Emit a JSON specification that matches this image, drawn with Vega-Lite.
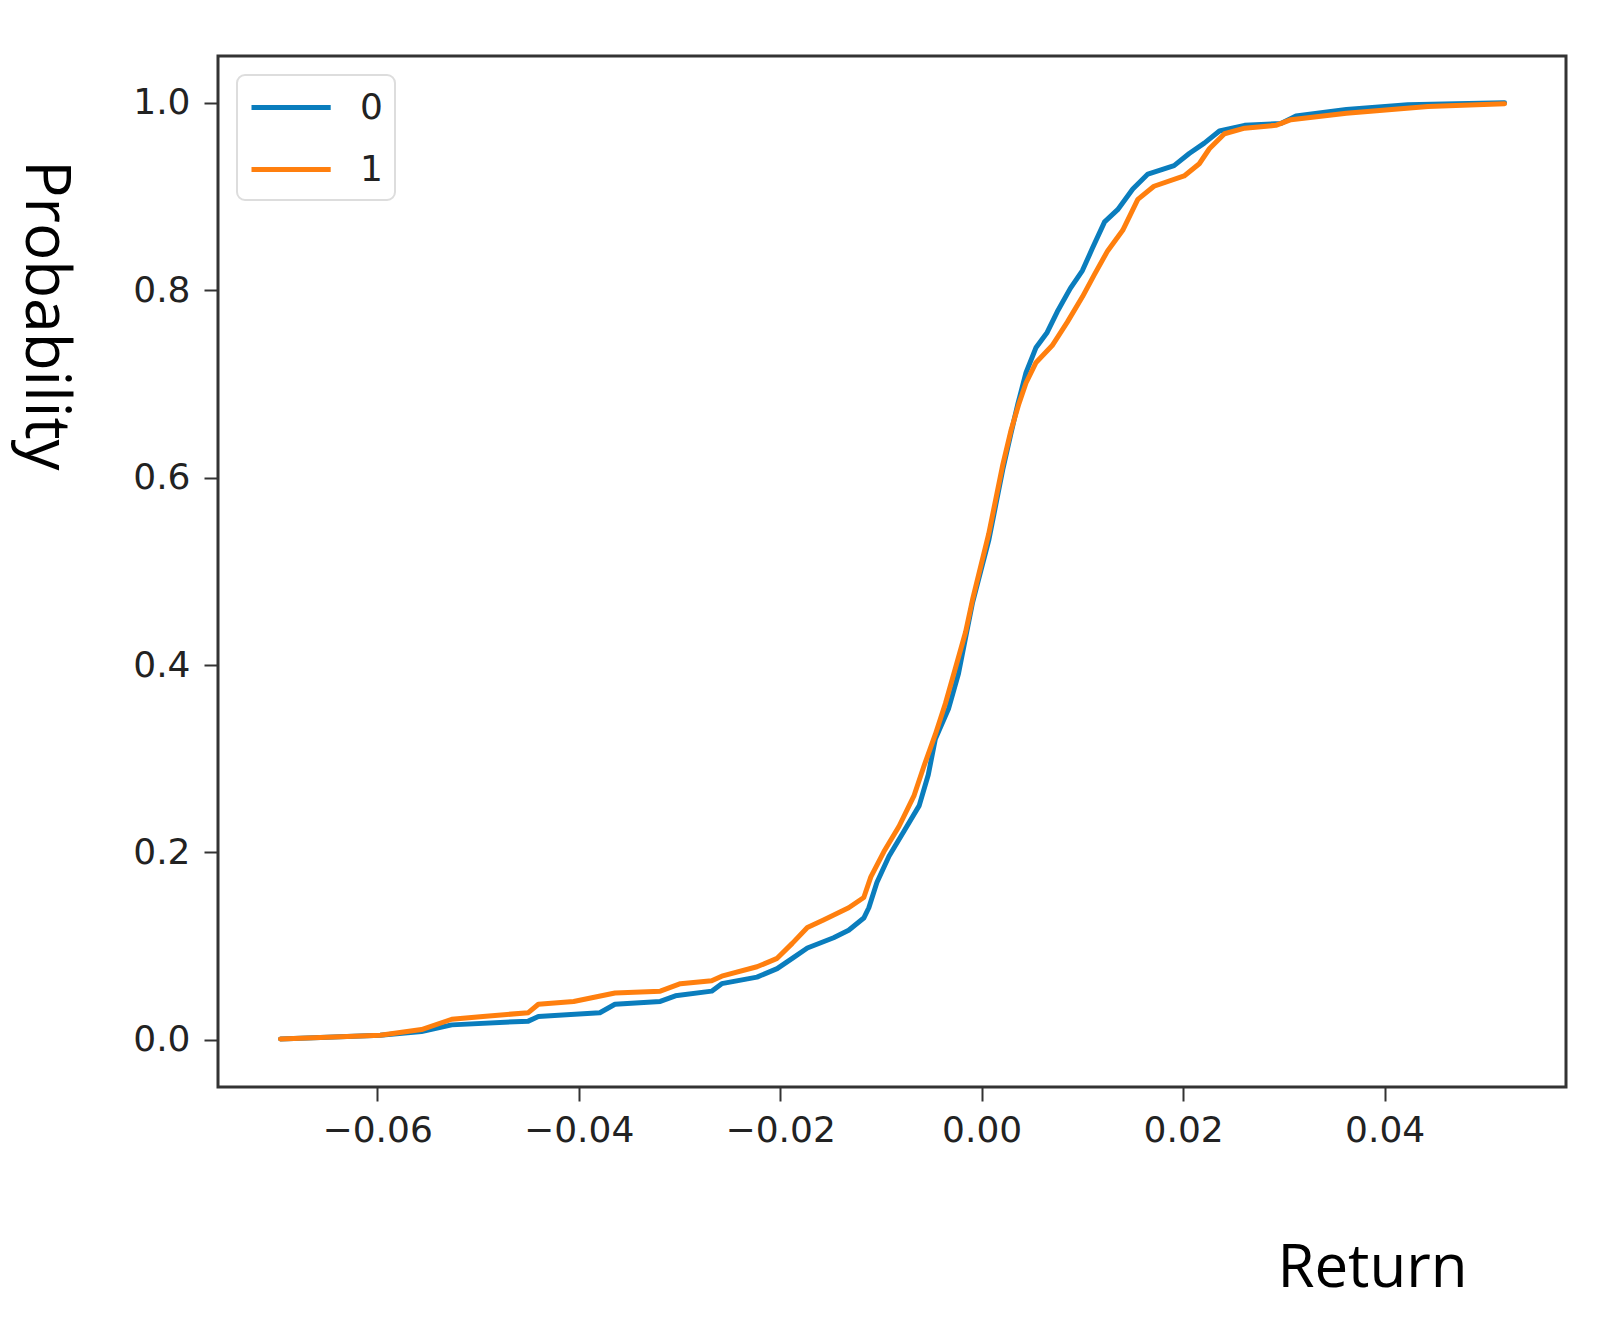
{
  "$schema": "https://vega.github.io/schema/vega-lite/v6.json",
  "width": 1348,
  "height": 1031,
  "autosize": {"type": "none"},
  "padding": {"left": 218, "top": 56, "right": 34, "bottom": 246},
  "background": "white",
  "config": {
    "view": {"stroke": "#333333", "strokeWidth": 3},
    "legend": {
      "orient": "none",
      "legendX": 19,
      "legendY": 19,
      "padding": 12,
      "strokeColor": "#dddddd",
      "strokeWidth": 2,
      "cornerRadius": 8,
      "fillColor": "white",
      "symbolType": "M-1,0L3.4,0",
      "symbolSize": 1296,
      "symbolStrokeWidth": 5,
      "labelFont": "DejaVu Sans",
      "labelFontSize": 36,
      "labelColor": "#222222",
      "labelOffset": 70,
      "rowPadding": 23
    }
  },
  "data": {
    "values": [
      {"group": "0", "ret": -0.0696, "prob": 0.001},
      {"group": "0", "ret": -0.0597, "prob": 0.005},
      {"group": "0", "ret": -0.0556, "prob": 0.009},
      {"group": "0", "ret": -0.0526, "prob": 0.016},
      {"group": "0", "ret": -0.0450, "prob": 0.020},
      {"group": "0", "ret": -0.0440, "prob": 0.025},
      {"group": "0", "ret": -0.0379, "prob": 0.029},
      {"group": "0", "ret": -0.0364, "prob": 0.038},
      {"group": "0", "ret": -0.0319, "prob": 0.041},
      {"group": "0", "ret": -0.0304, "prob": 0.047},
      {"group": "0", "ret": -0.0268, "prob": 0.052},
      {"group": "0", "ret": -0.0258, "prob": 0.060},
      {"group": "0", "ret": -0.0223, "prob": 0.067},
      {"group": "0", "ret": -0.0203, "prob": 0.076},
      {"group": "0", "ret": -0.0188, "prob": 0.087},
      {"group": "0", "ret": -0.0173, "prob": 0.098},
      {"group": "0", "ret": -0.0147, "prob": 0.109},
      {"group": "0", "ret": -0.0132, "prob": 0.117},
      {"group": "0", "ret": -0.0117, "prob": 0.130},
      {"group": "0", "ret": -0.0112, "prob": 0.141},
      {"group": "0", "ret": -0.0104, "prob": 0.168},
      {"group": "0", "ret": -0.0092, "prob": 0.196},
      {"group": "0", "ret": -0.0077, "prob": 0.223},
      {"group": "0", "ret": -0.0062, "prob": 0.250},
      {"group": "0", "ret": -0.0053, "prob": 0.283},
      {"group": "0", "ret": -0.0046, "prob": 0.321},
      {"group": "0", "ret": -0.0033, "prob": 0.353},
      {"group": "0", "ret": -0.0023, "prob": 0.391},
      {"group": "0", "ret": -0.0016, "prob": 0.429},
      {"group": "0", "ret": -0.0009, "prob": 0.467},
      {"group": "0", "ret": -0.0001, "prob": 0.500},
      {"group": "0", "ret": 0.0007, "prob": 0.533},
      {"group": "0", "ret": 0.0014, "prob": 0.571},
      {"group": "0", "ret": 0.0021, "prob": 0.609},
      {"group": "0", "ret": 0.0029, "prob": 0.647},
      {"group": "0", "ret": 0.0036, "prob": 0.679},
      {"group": "0", "ret": 0.0044, "prob": 0.712},
      {"group": "0", "ret": 0.0054, "prob": 0.739},
      {"group": "0", "ret": 0.0065, "prob": 0.755},
      {"group": "0", "ret": 0.0075, "prob": 0.777},
      {"group": "0", "ret": 0.0088, "prob": 0.802},
      {"group": "0", "ret": 0.0100, "prob": 0.821},
      {"group": "0", "ret": 0.0110, "prob": 0.845},
      {"group": "0", "ret": 0.0122, "prob": 0.873},
      {"group": "0", "ret": 0.0135, "prob": 0.886},
      {"group": "0", "ret": 0.0150, "prob": 0.908},
      {"group": "0", "ret": 0.0165, "prob": 0.924},
      {"group": "0", "ret": 0.0191, "prob": 0.933},
      {"group": "0", "ret": 0.0206, "prob": 0.946},
      {"group": "0", "ret": 0.0221, "prob": 0.957},
      {"group": "0", "ret": 0.0236, "prob": 0.970},
      {"group": "0", "ret": 0.0261, "prob": 0.976},
      {"group": "0", "ret": 0.0297, "prob": 0.978},
      {"group": "0", "ret": 0.0312, "prob": 0.986},
      {"group": "0", "ret": 0.0362, "prob": 0.993},
      {"group": "0", "ret": 0.0423, "prob": 0.998},
      {"group": "0", "ret": 0.0519, "prob": 1.000},
      {"group": "1", "ret": -0.0696, "prob": 0.001},
      {"group": "1", "ret": -0.0597, "prob": 0.005},
      {"group": "1", "ret": -0.0556, "prob": 0.011},
      {"group": "1", "ret": -0.0526, "prob": 0.022},
      {"group": "1", "ret": -0.0495, "prob": 0.025},
      {"group": "1", "ret": -0.0450, "prob": 0.029},
      {"group": "1", "ret": -0.0440, "prob": 0.038},
      {"group": "1", "ret": -0.0405, "prob": 0.041},
      {"group": "1", "ret": -0.0364, "prob": 0.050},
      {"group": "1", "ret": -0.0319, "prob": 0.052},
      {"group": "1", "ret": -0.0299, "prob": 0.060},
      {"group": "1", "ret": -0.0268, "prob": 0.063},
      {"group": "1", "ret": -0.0258, "prob": 0.068},
      {"group": "1", "ret": -0.0223, "prob": 0.078},
      {"group": "1", "ret": -0.0203, "prob": 0.087},
      {"group": "1", "ret": -0.0188, "prob": 0.103},
      {"group": "1", "ret": -0.0173, "prob": 0.120},
      {"group": "1", "ret": -0.0157, "prob": 0.128},
      {"group": "1", "ret": -0.0132, "prob": 0.141},
      {"group": "1", "ret": -0.0117, "prob": 0.152},
      {"group": "1", "ret": -0.0110, "prob": 0.174},
      {"group": "1", "ret": -0.0097, "prob": 0.201},
      {"group": "1", "ret": -0.0082, "prob": 0.228},
      {"group": "1", "ret": -0.0067, "prob": 0.261},
      {"group": "1", "ret": -0.0057, "prob": 0.293},
      {"group": "1", "ret": -0.0046, "prob": 0.326},
      {"group": "1", "ret": -0.0036, "prob": 0.359},
      {"group": "1", "ret": -0.0026, "prob": 0.397},
      {"group": "1", "ret": -0.0016, "prob": 0.435},
      {"group": "1", "ret": -0.0009, "prob": 0.470},
      {"group": "1", "ret": -0.0001, "prob": 0.505},
      {"group": "1", "ret": 0.0007, "prob": 0.540},
      {"group": "1", "ret": 0.0014, "prob": 0.577},
      {"group": "1", "ret": 0.0021, "prob": 0.614},
      {"group": "1", "ret": 0.0029, "prob": 0.650},
      {"group": "1", "ret": 0.0037, "prob": 0.679},
      {"group": "1", "ret": 0.0044, "prob": 0.701},
      {"group": "1", "ret": 0.0054, "prob": 0.723},
      {"group": "1", "ret": 0.0070, "prob": 0.741},
      {"group": "1", "ret": 0.0085, "prob": 0.766},
      {"group": "1", "ret": 0.0100, "prob": 0.793},
      {"group": "1", "ret": 0.0112, "prob": 0.817},
      {"group": "1", "ret": 0.0125, "prob": 0.842},
      {"group": "1", "ret": 0.0140, "prob": 0.864},
      {"group": "1", "ret": 0.0155, "prob": 0.897},
      {"group": "1", "ret": 0.0171, "prob": 0.911},
      {"group": "1", "ret": 0.0201, "prob": 0.922},
      {"group": "1", "ret": 0.0216, "prob": 0.935},
      {"group": "1", "ret": 0.0226, "prob": 0.951},
      {"group": "1", "ret": 0.0241, "prob": 0.967},
      {"group": "1", "ret": 0.0261, "prob": 0.973},
      {"group": "1", "ret": 0.0292, "prob": 0.976},
      {"group": "1", "ret": 0.0307, "prob": 0.982},
      {"group": "1", "ret": 0.0362, "prob": 0.989},
      {"group": "1", "ret": 0.0443, "prob": 0.996},
      {"group": "1", "ret": 0.0519, "prob": 0.999}
    ]
  },
  "mark": {"type": "line", "strokeWidth": 5, "strokeJoin": "round", "strokeCap": "round"},
  "encoding": {
    "x": {
      "field": "ret",
      "type": "quantitative",
      "scale": {"domain": [-0.0758, 0.058], "nice": false, "zero": false},
      "axis": {
        "values": [-0.06, -0.04, -0.02, 0, 0.02, 0.04],
        "format": ".2f",
        "grid": false,
        "domain": false,
        "tickSize": 14,
        "tickWidth": 2,
        "tickColor": "#333333",
        "labelFont": "DejaVu Sans",
        "labelFontSize": 36,
        "labelColor": "#222222",
        "labelPadding": 12,
        "title": "Return",
        "titleFont": "Open Sans",
        "titleFontSize": 60,
        "titleFontWeight": "normal",
        "titleColor": "black",
        "titleAlign": "center",
        "titleBaseline": "alphabetic",
        "titleX": 1154,
        "titleY": 199
      }
    },
    "y": {
      "field": "prob",
      "type": "quantitative",
      "scale": {"domain": [-0.0503, 1.05], "nice": false, "zero": false},
      "axis": {
        "values": [0, 0.2, 0.4, 0.6, 0.8, 1.0],
        "format": ".1f",
        "grid": false,
        "domain": false,
        "tickSize": 14,
        "tickWidth": 2,
        "tickColor": "#333333",
        "labelFont": "DejaVu Sans",
        "labelFontSize": 36,
        "labelColor": "#222222",
        "labelPadding": 14,
        "title": "Probability",
        "titleFont": "Open Sans",
        "titleFontSize": 62,
        "titleFontWeight": "normal",
        "titleColor": "black",
        "titleAngle": 90,
        "titleAlign": "center",
        "titleBaseline": "alphabetic",
        "titleX": -193,
        "titleY": 259
      }
    },
    "color": {
      "field": "group",
      "type": "nominal",
      "scale": {"domain": ["0", "1"], "range": ["#0a7dbd", "#ff7f0e"]},
      "legend": {"title": null}
    }
  }
}
